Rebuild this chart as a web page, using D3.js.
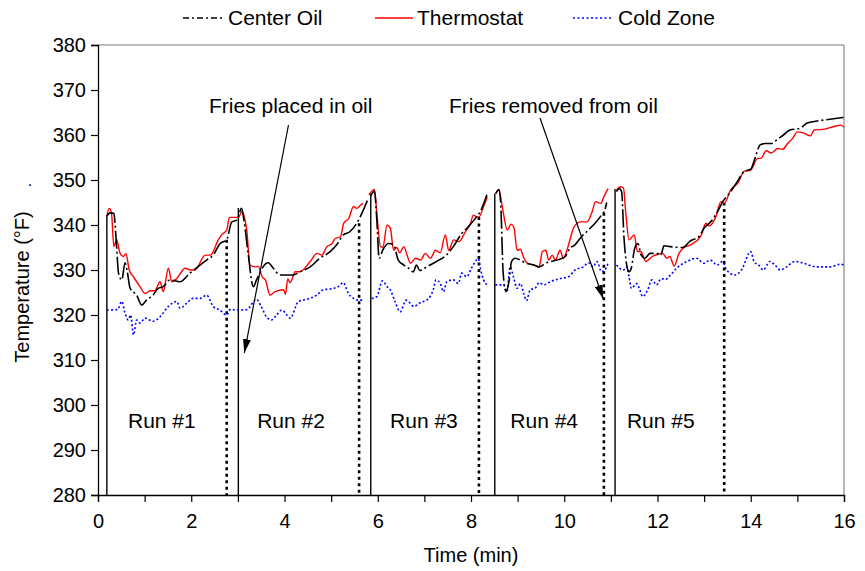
<!DOCTYPE html>
<html>
<head>
<meta charset="utf-8">
<script src="https://cdn.jsdelivr.net/npm/d3@7"></script>
<style>
  html, body { margin: 0; padding: 0; background: #fff; }
  svg { display: block; font-family: "Liberation Sans", Arial, sans-serif; }
</style>
</head>
<body>
<svg id="chart" width="865" height="571"></svg>
<script>
// ---------------- DATA ----------------
const seriesNames = ["Center Oil", "Thermostat", "Cold Zone"];
const xTickValues = [0,1,2,3,4,5,6,7,8,9,10,11,12,13,14,15,16];
const yTickValues = [280,290,300,310,320,330,340,350,360,370,380];

// null marks a break between runs
const thermostatTime = [0.19,0.24,0.29,0.34,0.40,0.47,0.54,0.60,0.67,0.76,0.90,1.01,1.12,1.22,1.33,1.40,1.51,1.58,1.69,1.87,1.98,2.08,2.30,2.41,2.58,2.65,2.76,2.82,3.01,3.09,3.14,3.19,3.26,3.37,3.44,3.52,3.59,3.69,3.80,3.98,4.02,4.07,4.12,4.23,4.33,4.55,4.70,4.80,4.91,5.02,5.09,5.20,5.27,5.38,5.48,5.55,5.63,5.68,
  5.75,
  5.81,5.93,5.98,6.06,6.11,6.20,6.27,6.34,6.41,6.47,6.56,6.63,6.70,6.81,6.92,7.02,7.13,7.24,7.34,7.45,7.52,7.63,7.74,7.88,7.99,8.05,8.13,8.17,8.28,8.35,
  8.45,
  8.53,8.60,8.67,8.78,8.86,8.92,8.99,9.06,9.12,9.21,9.35,9.46,9.53,9.60,9.67,9.74,9.81,9.91,9.98,10.07,10.14,10.21,10.35,10.49,10.60,10.67,10.78,10.85,10.94,
  11.02,
  11.12,11.21,11.27,11.32,11.39,11.50,11.57,11.64,11.75,11.89,12.00,12.11,12.20,12.26,12.36,12.46,12.54,12.71,12.93,13.04,13.11,13.25,13.36,13.43,13.57,13.72,13.86,14.00,14.15,14.22,14.33,14.44,14.58,14.68,14.79,14.90,15.00,15.14,15.28,15.36,15.58,15.79,15.94,16.00];
const thermostatTemp = [342.0,343.7,342.6,335.2,336.8,333.8,333.0,333.6,330.0,328.5,326.3,324.8,325.4,325.4,327.4,325.2,330.4,327.4,328.1,330.4,330.0,330.0,333.3,333.3,336.7,337.8,338.9,341.7,341.7,343.0,341.7,338.9,331.1,330.7,330.8,328.5,327.8,324.4,325.2,325.6,324.6,328.0,327.2,329.6,329.6,331.9,333.7,333.3,335.2,335.9,337.0,337.4,340.4,341.5,344.1,343.7,344.4,344.8,
  null,
  346.7,347.9,342.6,335.2,335.1,340.0,339.3,334.4,335.0,333.8,335.2,333.3,331.5,332.6,332.2,333.7,332.6,334.4,333.8,337.8,334.4,336.7,336.3,338.5,340.4,342.2,341.8,341.8,344.4,346.3,
  null,
  347.0,347.9,344.1,338.9,340.2,339.5,334.4,334.6,333.0,331.5,331.1,330.6,334.1,334.4,332.2,333.3,332.2,334.4,332.6,334.8,337.4,339.6,340.7,340.7,343.0,345.2,344.8,346.3,348.1,
  null,
  347.8,348.5,348.2,342.6,336.7,337.8,334.1,334.1,331.9,333.0,333.5,333.7,332.6,333.0,330.9,333.7,334.8,335.6,337.6,340.4,339.8,341.8,345.2,344.8,347.8,349.3,351.9,352.2,354.8,354.8,356.5,356.0,357.0,356.8,358.1,359.3,360.7,360.4,359.8,361.1,361.3,361.9,362.2,361.7];

const centerOilTime = [0.19,0.26,0.34,0.39,0.44,0.51,0.58,0.63,0.69,0.83,0.94,1.04,1.18,1.29,1.40,1.54,1.76,1.97,2.19,2.33,2.47,2.62,2.76,2.87,2.98,3.08,3.13,3.22,3.33,3.40,3.47,3.54,3.65,3.76,3.90,4.19,4.33,4.55,4.76,4.98,5.12,5.26,5.40,5.55,5.69,5.78,
  5.81,
  5.85,5.93,5.98,6.03,6.11,6.23,6.34,6.44,6.56,6.66,6.76,6.83,6.90,7.05,7.26,7.44,7.62,7.80,7.94,8.12,8.20,8.34,
  8.45,
  8.53,8.60,8.64,8.69,8.75,8.82,8.87,8.94,9.06,9.16,9.35,9.46,9.62,9.84,10.02,10.12,10.23,10.37,10.52,10.66,10.80,10.87,10.91,
  11.02,
  11.12,11.18,11.23,11.28,11.34,11.39,11.44,11.51,11.58,11.65,11.73,11.84,11.98,12.07,12.14,12.27,12.54,12.71,12.89,13.00,13.14,13.29,13.40,13.54,13.69,13.86,14.00,14.09,14.20,14.31,14.44,14.56,14.70,14.84,15.06,15.20,15.42,15.70,15.99];
const centerOilTemp = [342.0,342.7,342.6,336.7,329.3,327.8,331.6,329.5,325.9,324.4,322.2,323.3,324.4,325.9,326.3,327.8,327.4,329.3,331.1,332.2,333.3,335.9,336.7,340.7,341.1,343.7,341.1,333.7,326.3,327.8,329.3,330.7,331.6,330.4,328.9,328.9,329.6,330.7,332.6,334.1,335.6,337.8,338.5,340.4,343.3,345.5,
  null,
  346.5,347.5,341.1,332.6,334.5,335.9,335.6,332.2,331.1,330.4,329.6,331.1,329.9,330.7,331.9,333.0,335.2,338.1,339.6,341.8,343.0,346.7,
  null,
  347.0,347.8,344.1,329.3,325.2,327.8,331.9,332.6,332.2,331.6,331.1,330.7,331.6,332.2,333.0,334.8,335.6,337.4,338.9,340.4,342.2,343.3,345.0,
  null,
  347.4,348.1,347.4,337.4,331.1,329.6,330.5,334.8,335.9,333.3,332.6,333.7,333.7,333.3,335.4,335.2,335.0,336.5,337.4,339.3,340.7,343.0,345.2,347.0,349.3,351.9,352.4,354.8,357.8,358.1,358.1,358.9,360.0,361.1,361.5,362.6,363.1,363.5,363.9];

const coldZoneTime = [0.19,0.42,0.51,0.58,0.65,0.70,0.76,0.83,0.90,1.01,1.18,1.33,1.51,1.69,1.76,1.90,2.04,2.19,2.33,2.47,2.61,2.76,2.83,2.98,3.19,3.40,3.50,3.62,3.72,3.83,3.94,4.05,4.12,4.30,4.48,4.69,4.83,5.05,5.15,5.26,5.37,5.48,5.58,5.70,
  5.78,
  5.87,5.98,6.10,6.20,6.27,6.37,6.48,6.61,6.70,6.77,6.92,7.05,7.19,7.25,7.34,7.41,7.48,7.62,7.73,7.80,7.91,8.01,8.16,8.20,8.27,8.34,
  8.45,
  8.52,8.70,8.77,8.84,8.91,8.99,9.06,9.13,9.19,9.27,9.38,9.46,9.56,9.70,9.91,10.09,10.23,10.41,10.52,10.62,10.70,10.80,10.87,10.94,
  11.02,
  11.12,11.27,11.34,11.39,11.44,11.55,11.62,11.68,11.79,11.88,11.98,12.08,12.17,12.27,12.41,12.63,12.84,12.99,13.13,13.28,13.39,13.48,13.66,13.80,14.00,14.07,14.17,14.27,14.41,14.52,14.63,14.77,14.95,15.13,15.41,15.70,15.92,16.00];
const coldZoneTemp = [321.1,321.2,323.0,320.4,318.9,320.0,315.6,318.9,318.2,319.3,318.6,319.6,321.9,323.0,321.5,322.6,323.7,323.7,324.4,321.9,321.1,320.0,321.2,321.1,321.2,323.5,321.9,319.5,318.9,320.0,321.1,320.0,319.3,323.0,323.5,324.4,325.6,325.9,326.3,327.2,324.8,323.7,323.3,323.3,
  null,
  323.7,324.1,327.6,326.3,325.6,323.0,320.7,323.3,322.6,321.9,322.8,323.3,325.6,327.8,327.0,325.2,327.4,327.8,327.0,329.3,328.5,330.4,332.5,330.4,327.8,326.7,
  null,
  326.7,326.7,325.2,330.7,328.5,325.9,327.0,324.8,323.2,325.6,326.0,327.2,326.7,327.4,328.1,328.5,330.0,330.7,331.6,330.7,331.9,329.6,330.0,331.5,
  null,
  331.1,330.0,330.7,328.5,325.9,327.0,325.6,324.1,325.6,327.8,326.7,328.1,327.9,328.8,330.4,331.9,332.6,331.5,332.2,331.1,331.9,330.0,328.9,330.0,334.1,331.9,331.1,330.0,331.9,331.1,330.0,330.7,331.9,331.5,330.7,330.7,331.3,331.1];

// Run start (solid) and fries-removed (dotted) markers
const runStartTime = [0.19, 3.01, 5.85, 8.51, 11.09];
const runStartTop  = [342.0, 343.8, 347.0, 347.0, 348.0];
const friesOutTime = [2.76, 5.60, 8.17, 10.85, 13.43];
const friesOutTop  = [336.7, 340.4, 341.8, 342.7, 345.0];
const runLabels = ["Run #1", "Run #2", "Run #3", "Run #4", "Run #5"];
const runLabelTime = [1.37, 4.14, 6.99, 9.57, 12.07];
const annotationTexts = ["Fries placed in oil", "Fries removed from oil"];

// ---------------- CHART ----------------
const W = 865, H = 571;
const m = { left: 98, right: 21, top: 45, bottom: 76 };
const svg = d3.select("#chart");
const x = d3.scaleLinear().domain([0, 16]).range([m.left, W - m.right]);
const y = d3.scaleLinear().domain([280, 380]).range([H - m.bottom, m.top]);
const FONT = 20;
const FONT_L = 21;

// frame (top/right gray)
svg.append("line").attr("x1", x(0)).attr("x2", x(16)).attr("y1", y(380)).attr("y2", y(380))
  .attr("stroke", "#a6a6a6").attr("stroke-width", 1.3);
svg.append("line").attr("x1", x(16)).attr("x2", x(16)).attr("y1", y(380)).attr("y2", y(280))
  .attr("stroke", "#a6a6a6").attr("stroke-width", 1.6);

// axes
const yAxis = svg.append("g").attr("transform", `translate(${x(0)},0)`)
  .call(d3.axisLeft(y).tickValues(yTickValues).tickSize(7).tickPadding(5).tickFormat(d3.format("d")));
const xAxis = svg.append("g").attr("transform", `translate(0,${y(280)})`)
  .call(d3.axisBottom(x).tickValues(xTickValues).tickSize(7).tickPadding(12)
    .tickFormat(d => d % 2 === 0 ? d : ""));
[yAxis, xAxis].forEach(g => {
  g.selectAll("text").attr("font-size", FONT).attr("font-family", "Liberation Sans, Arial, sans-serif").attr("fill", "#000");
  g.selectAll("line").attr("stroke", "#000").attr("stroke-width", 1.2);
  g.select(".domain").attr("stroke", "#000").attr("stroke-width", 1.3);
});

// axis titles
svg.append("text").attr("x", (x(0) + x(16)) / 2).attr("y", 562).attr("text-anchor", "middle")
  .attr("font-size", FONT).text("Time (min)");
svg.append("text").attr("transform", `translate(29,${287}) rotate(-90)`).attr("text-anchor", "middle")
  .attr("font-size", FONT).text("Temperature (°F)");
svg.append("text").attr("x", 30).attr("y", 186).attr("text-anchor", "middle")
  .attr("font-size", 16).text(".");

// vertical run lines
runStartTime.forEach((t, i) => {
  svg.append("line").attr("x1", x(t)).attr("x2", x(t)).attr("y1", y(runStartTop[i])).attr("y2", y(280))
    .attr("stroke", "#000").attr("stroke-width", 1.4);
});
friesOutTime.forEach((t, i) => {
  svg.append("line").attr("x1", x(t)).attr("x2", x(t)).attr("y1", y(friesOutTop[i])).attr("y2", y(280))
    .attr("stroke", "#000").attr("stroke-width", 2.6).attr("stroke-dasharray", "3,3.5");
});

// series
function build(times, temps) { return times.map((t, i) => ({ t, v: temps[i] })); }
const line = d3.line().defined(d => d.v !== null).x(d => x(d.t)).y(d => y(d.v)).curve(d3.curveMonotoneX);

const plotG = svg.append("g");
plotG.append("path").datum(build(coldZoneTime, coldZoneTemp)).attr("d", line)
  .attr("fill", "none").attr("stroke", "#0000ff").attr("stroke-width", 1.6).attr("stroke-dasharray", "2,2.2");
plotG.append("path").datum(build(thermostatTime, thermostatTemp)).attr("d", line)
  .attr("fill", "none").attr("stroke", "#ff0000").attr("stroke-width", 1.4);
plotG.append("path").datum(build(centerOilTime, centerOilTemp)).attr("d", line)
  .attr("fill", "none").attr("stroke", "#000").attr("stroke-width", 1.6).attr("stroke-dasharray", "18,3,2,3");

// run labels
runLabels.forEach((lbl, i) => {
  svg.append("text").attr("x", x(runLabelTime[i])).attr("y", y(295)).attr("text-anchor", "middle")
    .attr("font-size", FONT_L).text(lbl);
});

// annotations with arrows
const defs = svg.append("defs");
defs.append("marker").attr("id", "arrow").attr("viewBox", "0 0 14 8").attr("refX", 14).attr("refY", 4)
  .attr("markerWidth", 14).attr("markerHeight", 8).attr("markerUnits", "userSpaceOnUse").attr("orient", "auto")
  .append("path").attr("d", "M0,0 L14,4 L0,8 Z").attr("fill", "#000");

svg.append("text").attr("x", 209).attr("y", 113).attr("font-size", FONT_L).text(annotationTexts[0]);
svg.append("line").attr("x1", 288.5).attr("y1", 125).attr("x2", 244.3).attr("y2", 353)
  .attr("stroke", "#000").attr("stroke-width", 1.2).attr("marker-end", "url(#arrow)");
svg.append("text").attr("x", 449).attr("y", 113).attr("font-size", FONT_L).text(annotationTexts[1]);
svg.append("line").attr("x1", 540).attr("y1", 118).attr("x2", 603.3).attr("y2", 299)
  .attr("stroke", "#000").attr("stroke-width", 1.2).attr("marker-end", "url(#arrow)");

// legend
const legend = [
  { name: seriesNames[0], x1: 183, x2: 225, tx: 228, color: "#000", dash: "6,3,2,3", w: 1.5 },
  { name: seriesNames[1], x1: 375, x2: 413, tx: 417, color: "#ff0000", dash: null, w: 1.5 },
  { name: seriesNames[2], x1: 573, x2: 612, tx: 618, color: "#0000ff", dash: "2,2.5", w: 1.6 }
];
legend.forEach(l => {
  const ln = svg.append("line").attr("x1", l.x1).attr("x2", l.x2).attr("y1", 18).attr("y2", 18)
    .attr("stroke", l.color).attr("stroke-width", l.w);
  if (l.dash) ln.attr("stroke-dasharray", l.dash);
  svg.append("text").attr("x", l.tx).attr("y", 25).attr("font-size", FONT_L).text(l.name);
});
</script>
</body>
</html>
